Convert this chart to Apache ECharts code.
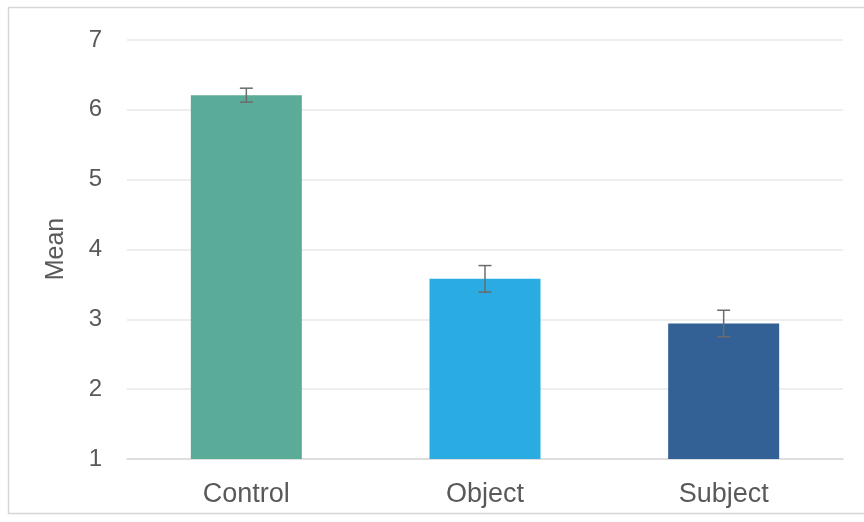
<!DOCTYPE html>
<html>
<head>
<meta charset="utf-8">
<script src="https://cdn.jsdelivr.net/npm/echarts@6/dist/echarts.min.js"></script>
<style>html,body{margin:0;padding:0;background:#fff;}#c{width:864px;height:522px;}</style>
</head>
<body>
<div id="c"></div>
<script>
const categories = ['Control', 'Object', 'Subject'];
const means = [6.21, 3.58, 2.94];
const errors = [0.10, 0.19, 0.19];
const colors = ['#5aab98', '#2aabe2', '#336195'];
const yTicks = [1, 2, 3, 4, 5, 6, 7];

const chart = echarts.init(document.getElementById('c'));
chart.setOption({
  animation: false,
  backgroundColor: '#fff',
  graphic: [
    {type: 'rect', shape: {x: 8.5, y: 7.5, width: 870, height: 506}, style: {fill: 'none', stroke: '#d6d6d6', lineWidth: 1.5}, z: -1},
    {type: 'text', x: 56, y: 249, rotation: Math.PI / 2, style: {text: 'Mean', fill: '#595959', font: '25px "Liberation Sans", Arial, sans-serif', align: 'center', verticalAlign: 'middle'}}
  ],
  grid: {left: 127, right: 21, top: 40, bottom: 63},
  xAxis: {
    type: 'category', data: categories,
    axisLine: {lineStyle: {color: '#d9d9d9', width: 1.5}},
    axisTick: {show: false},
    axisLabel: {color: '#595959', fontSize: 27, margin: 22, fontFamily: '"Liberation Sans", Arial, sans-serif'}
  },
  yAxis: {
    type: 'value', min: yTicks[0], max: yTicks[yTicks.length - 1], interval: 1,
    axisLine: {show: false}, axisTick: {show: false},
    axisLabel: {color: '#595959', fontSize: 24, margin: 25, fontFamily: '"Liberation Sans", Arial, sans-serif'},
    splitLine: {lineStyle: {color: '#e8e8e8', width: 1.5}}
  },
  series: [
    {
      type: 'bar', barWidth: 111,
      data: means.map((v, i) => ({value: v, itemStyle: {color: colors[i]}}))
    },
    {
      type: 'custom', z: 10,
      data: means.map((v, i) => [i, v - errors[i], v + errors[i]]),
      renderItem: function (params, api) {
        const lo = api.coord([api.value(0), api.value(1)]);
        const hi = api.coord([api.value(0), api.value(2)]);
        const hw = 6.5;
        const st = {stroke: '#6b6b6b', lineWidth: 1.5};
        return {type: 'group', children: [
          {type: 'line', shape: {x1: hi[0], y1: hi[1], x2: lo[0], y2: lo[1]}, style: st},
          {type: 'line', shape: {x1: hi[0] - hw, y1: hi[1], x2: hi[0] + hw, y2: hi[1]}, style: st},
          {type: 'line', shape: {x1: lo[0] - hw, y1: lo[1], x2: lo[0] + hw, y2: lo[1]}, style: st}
        ]};
      }
    }
  ]
});
</script>
</body>
</html>
